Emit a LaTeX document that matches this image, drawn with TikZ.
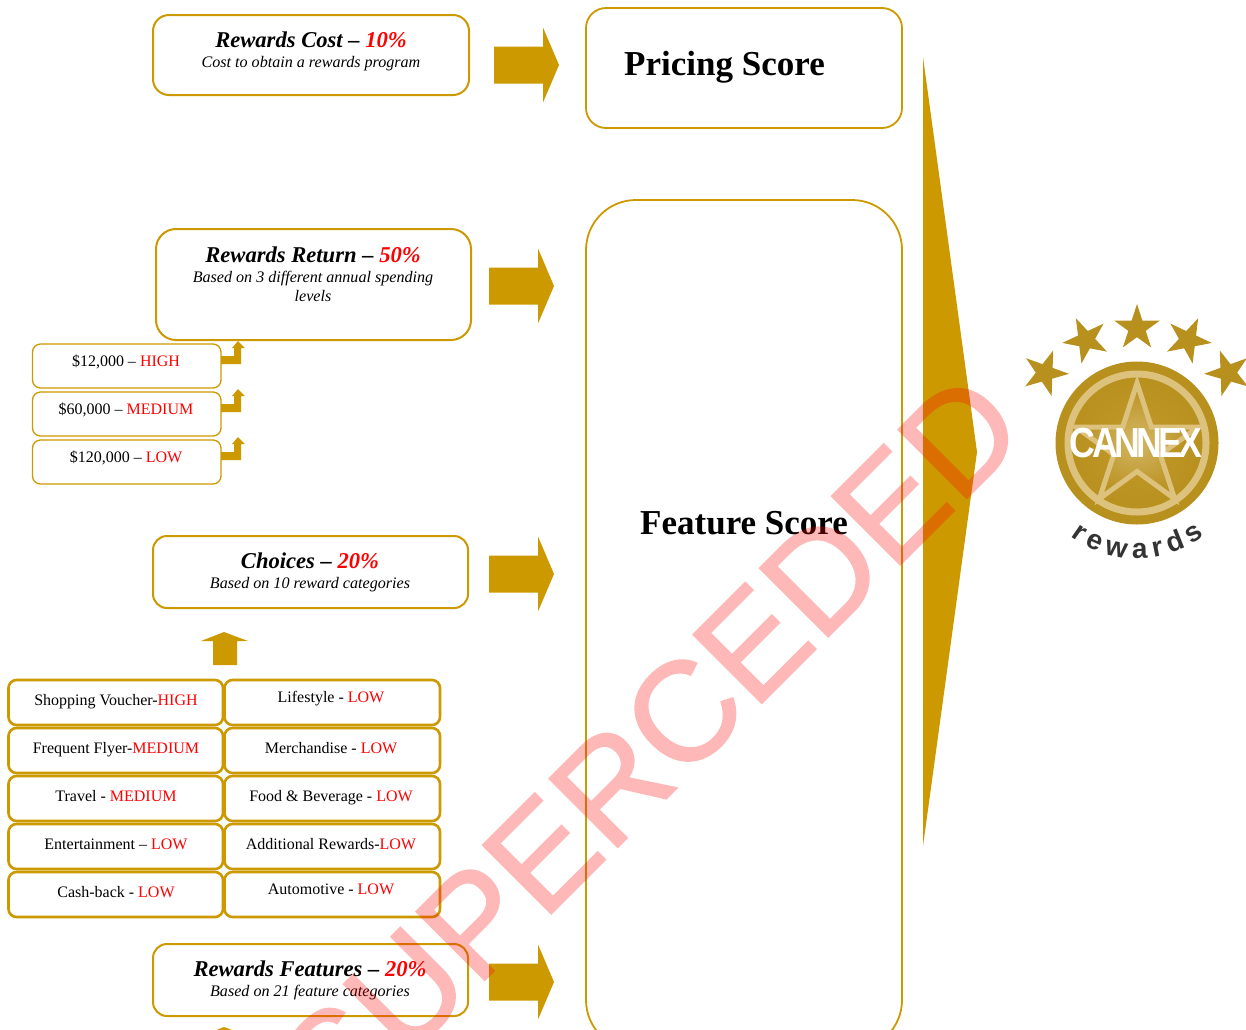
\documentclass[tikz,border=0pt]{standalone}
\usepackage{fontspec}
\setmainfont{Liberation Serif}
\newfontfamily\lsans{Liberation Sans}
\newfontfamily\wmfont[FakeBold=1.2]{Liberation Sans}
\usetikzlibrary{shapes.geometric,decorations.text}
\definecolor{gold}{HTML}{CC9900}
\definecolor{logogold}{HTML}{B8901E}
\definecolor{logolight}{HTML}{DCC27C}
\definecolor{logomid}{HTML}{C29A2C}
\newcommand\pxf[1]{\fontsize{#1}{#1}\selectfont}
\newcommand\rd[1]{\textcolor{red}{#1}}
\newcommand\rarrow[2]{\fill[gold] (#1,#2-18.5) -- (#1+49,#2-18.5) -- (#1+49,#2-37.5) -- (#1+65,#2) -- (#1+49,#2+37.5) -- (#1+49,#2+18.5) -- (#1,#2+18.5) -- cycle;}
\newcommand\bentarrow[1]{\fill[gold] (221,#1+15) -- (234,#1+15) -- (234,#1+7) -- (232,#1+7) -- (238,#1) -- (245,#1+7) -- (241,#1+7) -- (241,#1+23) -- (221,#1+23) -- cycle;}
\newcommand\blockup[1]{\fill[gold] (224,#1) -- (248,#1+9) -- (237,#1+9) -- (237,#1+33) -- (213,#1+33) -- (213,#1+9) -- (201,#1+9) -- cycle;}
\tikzset{
  x=1pt,y=-1pt,
  goldbox/.style={draw=gold,fill=white,line width=2pt,inner sep=0pt,outer sep=0pt},
  bigbox/.style={draw=gold,line width=1.8pt,inner sep=0pt,outer sep=0pt},
  smallbox/.style={draw=gold,fill=white,line width=1.3pt,rounded corners=8pt,inner sep=0pt},
  gridbox/.style={draw=gold,fill=white,line width=2.6pt,rounded corners=8pt,inner sep=0pt},
  title/.style={anchor=base,inner sep=0pt,font=\pxf{22.6}\bfseries\itshape},
  subt/.style={anchor=base,inner sep=0pt,font=\pxf{16.1}\itshape},
  item/.style={anchor=base,inner sep=0pt,font=\pxf{16}},
  score/.style={anchor=base west,inner sep=0pt,font=\pxf{35}\bfseries},
  logostar/.style={star,star points=5,star point ratio=2.618,fill=logogold,inner sep=0pt,minimum size=48pt},
}
\begin{document}
\begin{tikzpicture}
\useasboundingbox (0,0) rectangle (1246,1029);
\begin{scope}
\clip (0,0) rectangle (1246,1029);
% score boxes
\draw[bigbox,rounded corners=20pt] (586,8) rectangle (902,128);
\draw[bigbox,rounded corners=50pt] (586,200) rectangle (902,1050);
\node[score] (pricing) at (624,75) {Pricing Score};
\node[score] (feature) at (640,534) {Feature Score};
% big triangle
\fill[gold] (923,57) -- (977,452) -- (923,846) -- cycle;
% main boxes
\draw[goldbox,rounded corners=16pt] (153,15) rectangle (469,95);
\node[title] (t1) at (311,47) {Rewards Cost – \rd{10\%}};
\node[subt] (s1) at (311,67) {Cost to obtain a rewards program};
\draw[goldbox,rounded corners=20pt] (156,229) rectangle (471,340);
\node[title] (t2) at (313,262) {Rewards Return – \rd{50\%}};
\node[subt] (s2) at (313,282) {Based on 3 different annual spending};
\node[subt] (s2b) at (313,301) {levels};
\draw[goldbox,rounded corners=14pt] (153,536) rectangle (468,608);
\node[title] (t3) at (310,568) {Choices – \rd{20\%}};
\node[subt] (s3) at (310,588) {Based on 10 reward categories};
\draw[goldbox,rounded corners=14pt] (153,944) rectangle (468,1016);
\node[title] (t4) at (310,976) {Rewards Features – \rd{20\%}};
\node[subt] (s4) at (310,996) {Based on 21 feature categories};
% block arrows
\rarrow{494}{65}
\rarrow{489}{286}
\rarrow{489}{574}
\rarrow{489}{982}
\blockup{632}
\blockup{1027}
% spending boxes
\draw[smallbox] (32.5,344) rectangle (221,388);
\draw[smallbox] (32.5,392) rectangle (221,436);
\draw[smallbox] (32.5,440) rectangle (221,484);
\node[item] (a1) at (126,366) {\$12,000 – \rd{HIGH}};
\node[item] (a2) at (126,414) {\$60,000 – \rd{MEDIUM}};
\node[item] (a3) at (126,462) {\$120,000 – \rd{LOW}};
\bentarrow{341}
\bentarrow{389}
\bentarrow{437}
% category grid
\foreach \yy in {680,728,776,824,872}{
  \draw[gridbox] (8.5,\yy) rectangle (223,\yy+45);
  \draw[gridbox] (224.5,\yy) rectangle (440,\yy+45);
}
\node[item] (l1) at (116,705) {Shopping Voucher-\rd{HIGH}};
\node[item] (l2) at (116,753) {Frequent Flyer-\rd{MEDIUM}};
\node[item] (l3) at (116,801) {Travel - \rd{MEDIUM}};
\node[item] (l4) at (116,849) {Entertainment – \rd{LOW}};
\node[item] (l5) at (116,897) {Cash-back - \rd{LOW}};
\node[item] (r1) at (331,702) {Lifestyle - \rd{LOW}};
\node[item] (r2) at (331,753) {Merchandise - \rd{LOW}};
\node[item] (r3) at (331,801) {Food \& Beverage - \rd{LOW}};
\node[item] (r4) at (331,849) {Additional Rewards-\rd{LOW}};
\node[item] (r5) at (331,894) {Automotive - \rd{LOW}};
% logo
\node[logostar,shape border rotate=0] (st1) at (1137,328) {};
\node[logostar,shape border rotate=25] (st2) at (1086,340) {};
\node[logostar,shape border rotate=-25] (st3) at (1188,340) {};
\node[logostar,shape border rotate=52] (st4) at (1045,373) {};
\node[logostar,shape border rotate=-52] (st5) at (1228,373) {};
\node[circle,fill=logogold,minimum size=163pt,inner sep=0pt] (disc) at (1137,443) {};
\node[circle,draw=logolight,line width=7pt,inner color=logomid,outer color=logogold,minimum size=138pt,inner sep=0pt] (ring) at (1137,443) {};
\node[star,star points=5,star point ratio=2.618,draw=logolight,line width=5pt,inner color=logolight!70!logomid,outer color=logogold,minimum size=128pt,inner sep=0pt] (bigstar) at (1137,447) {};
\node[inner sep=0pt,text=white,font=\lsans\bfseries\pxf{42}] (cannex) at (1136,443) {\scalebox{.85}[1]{C\kern-4.4pt A\kern-4.4pt N\kern-4.4pt N\kern-4.4pt E\kern-4.4pt X}};
\path[decorate,decoration={text along path,text align=fit to path,text={|\lsans\bfseries\pxf{28}\color{black!80}|rewards}}] (1071,536) .. controls (1110,566) and (1165,566) .. (1204,536);
% watermark
\begin{scope}[transparency group,opacity=.28]
\node[rotate=45,anchor=base west,inner sep=0pt,text=red,font=\wmfont\pxf{141}] (wm) at (338,1127) {SUPERCEDED};
\end{scope}
\end{scope}
\end{tikzpicture}
\end{document}
